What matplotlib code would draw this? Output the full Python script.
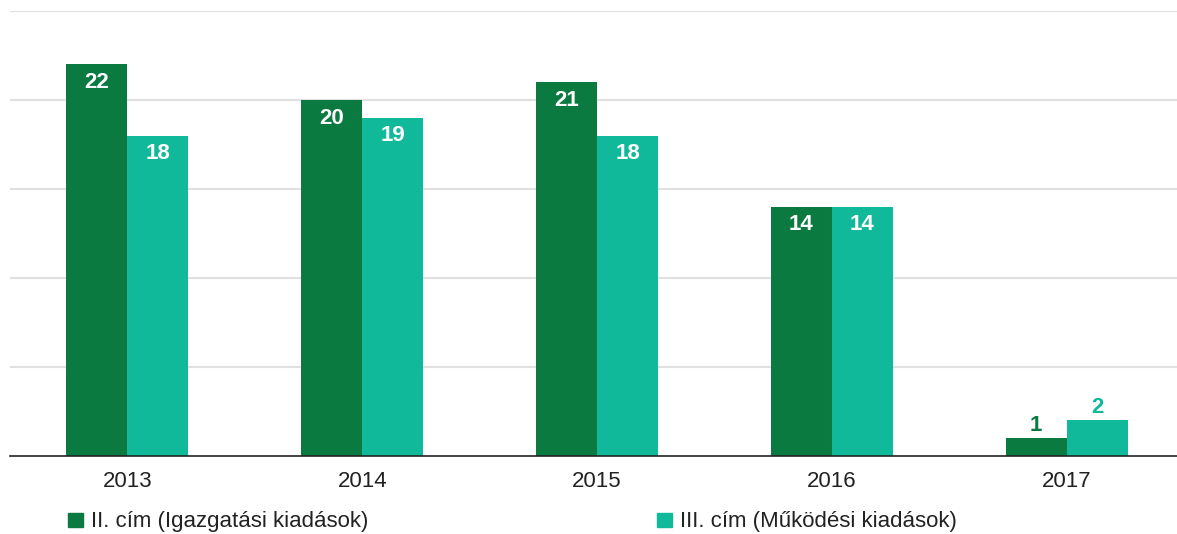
import matplotlib.pyplot as plt
from matplotlib.patches import Rectangle
import numpy as np

# Adatok
evek = ["2013", "2014", "2015", "2016", "2017"]
igazgatasi = [22, 20, 21, 14, 1]
mukodesi = [18, 19, 18, 14, 2]
sorozat_nevek = ["II. cím (Igazgatási kiadások)", "III. cím (Működési kiadások)"]

sotet = "#0b7a41"
turkiz = "#10b99a"

plt.rcParams['font.family'] = ['Liberation Sans', 'DejaVu Sans']

fig = plt.figure(figsize=(11.77, 5.34), dpi=100)
W, H = 1177, 534
ax = fig.add_axes([10 / W, (H - 456) / H, 1174 / W, 445 / H])

x = np.arange(len(evek))
sz = 0.26
b1 = ax.bar(x - sz / 2, igazgatasi, width=sz, color=sotet)
b2 = ax.bar(x + sz / 2, mukodesi, width=sz, color=turkiz)

ax.set_xlim(-0.5, len(evek) - 0.5)
ax.set_ylim(0, 25)
ax.set_yticks([5, 10, 15, 20, 25])
ax.yaxis.grid(True, color="#e0e0e0", linewidth=1.5)
ax.set_axisbelow(True)
ax.tick_params(axis="y", left=False, labelleft=False)
ax.tick_params(axis="x", bottom=False, labelsize=16, colors="#222222", pad=7)
ax.set_xticks(x)
ax.set_xticklabels(evek)
for s in ["top", "right", "left"]:
    ax.spines[s].set_visible(False)
ax.spines["bottom"].set_color("#222222")
ax.spines["bottom"].set_linewidth(1.2)

# Értékcímkék
for bars, vals, col in [(b1, igazgatasi, sotet), (b2, mukodesi, turkiz)]:
    for rect, v in zip(bars, vals):
        cx = rect.get_x() + rect.get_width() / 2
        if v >= 3:
            ax.annotate(str(v), (cx, v), xytext=(0, -13), textcoords="offset points",
                        ha="center", va="center", color="white", fontsize=16, fontweight="bold")
        else:
            ax.annotate(str(v), (cx, v), xytext=(0, 9.5), textcoords="offset points",
                        ha="center", va="center", color=col, fontsize=16, fontweight="bold")

# Jelmagyarázat
for (nx, tx), nev, col in zip([(68, 91), (657, 680)], sorozat_nevek, [sotet, turkiz]):
    fig.patches.append(Rectangle((nx / W, (H - 527) / H), 15 / W, 14 / H,
                                 transform=fig.transFigure, color=col))
    fig.text(tx / W, (H - 521) / H, nev, fontsize=16, color="#222222", va="center")

fig.savefig("out.png", dpi=100)
